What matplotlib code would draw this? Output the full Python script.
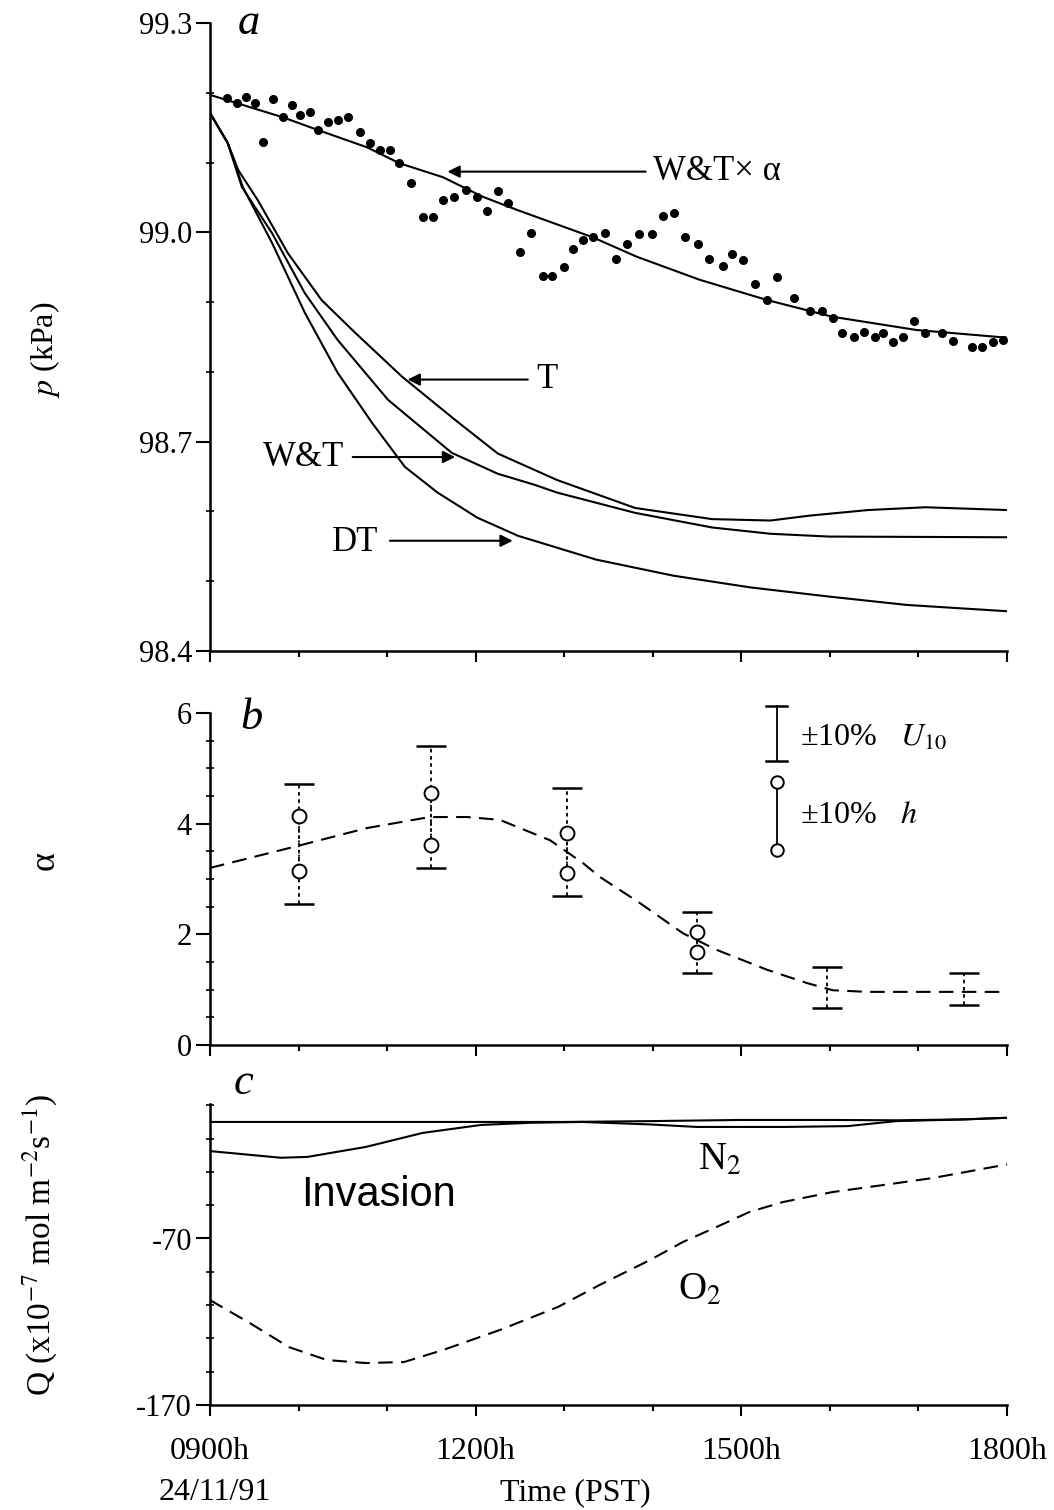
import matplotlib
matplotlib.use("Agg")
import numpy as np
import matplotlib.pyplot as plt

plt.rcParams['font.family'] = ['Liberation Serif', 'DejaVu Serif']
plt.rcParams['mathtext.fontset'] = 'stix'
plt.rcParams['axes.unicode_minus'] = False

# ---- panel a : pressure (kPa) ----
obs_hours = [9.19, 9.30, 9.41, 9.51, 9.60, 9.71, 9.82, 9.93, 10.02, 10.13,
             10.22, 10.33, 10.44, 10.56, 10.69, 10.81, 10.92, 11.03, 11.13, 11.27,
             11.40, 11.52, 11.63, 11.75, 11.89, 12.01, 12.13, 12.25, 12.37, 12.50,
             12.63, 12.76, 12.86, 13.00, 13.10, 13.21, 13.32, 13.46, 13.58, 13.71,
             13.84, 13.99, 14.11, 14.24, 14.36, 14.51, 14.64, 14.79, 14.90, 15.02,
             15.15, 15.29, 15.40, 15.59, 15.77, 15.91, 16.03, 16.14, 16.27, 16.39,
             16.51, 16.60, 16.71, 16.82, 16.95, 17.07, 17.27, 17.39, 17.61, 17.72,
             17.84, 17.95]
obs_p = [99.193, 99.185, 99.194, 99.185, 99.130, 99.191, 99.165, 99.183, 99.168, 99.172,
         99.147, 99.158, 99.161, 99.165, 99.144, 99.128, 99.118, 99.118, 99.099, 99.071,
         99.022, 99.022, 99.046, 99.051, 99.061, 99.051, 99.031, 99.059, 99.042, 98.972,
         98.999, 98.938, 98.938, 98.950, 98.976, 98.989, 98.993, 98.999, 98.962, 98.983,
         98.998, 98.998, 99.024, 99.028, 98.993, 98.983, 98.962, 98.952, 98.969, 98.960,
         98.926, 98.903, 98.936, 98.906, 98.887, 98.887, 98.877, 98.856, 98.850, 98.857,
         98.850, 98.856, 98.843, 98.850, 98.873, 98.856, 98.856, 98.844, 98.836, 98.836,
         98.843, 98.846]

wta_hours = [9.0, 9.82, 10.21, 10.77, 11.14, 11.63, 12.08, 12.47, 12.84, 13.32,
             13.82, 14.53, 15.29, 16.03, 16.98, 18.0]
wta_p = [99.197, 99.165, 99.147, 99.122, 99.099, 99.079, 99.051, 99.032, 99.015, 98.993,
         98.965, 98.932, 98.903, 98.879, 98.860, 98.849]

t_hours = [9.0, 9.20, 9.32, 9.54, 9.88, 10.26, 10.64, 11.17, 11.77, 12.25,
           12.92, 13.80, 14.67, 15.33, 15.77, 16.43, 17.08, 18.0]
t_p = [99.171, 99.128, 99.089, 99.046, 98.970, 98.903, 98.856, 98.793, 98.731, 98.683,
       98.645, 98.605, 98.589, 98.587, 98.594, 98.602, 98.606, 98.602]

wt_hours = [9.0, 9.20, 9.36, 9.70, 10.07, 10.44, 11.01, 11.73, 12.25, 12.67,
            12.92, 13.80, 14.67, 15.33, 15.99, 18.0]
wt_p = [99.171, 99.128, 99.065, 98.999, 98.913, 98.846, 98.760, 98.684, 98.654, 98.638,
        98.627, 98.598, 98.577, 98.568, 98.564, 98.563]

dt_hours = [9.0, 9.20, 9.37, 9.70, 10.07, 10.44, 10.83, 11.20, 11.57, 12.02,
            12.48, 13.36, 14.23, 15.11, 15.99, 16.87, 18.0]
dt_p = [99.171, 99.128, 99.065, 98.985, 98.885, 98.799, 98.727, 98.664, 98.627, 98.591,
        98.565, 98.531, 98.508, 98.491, 98.478, 98.466, 98.457]

# ---- panel b : alpha ----
alpha_hours = [9.0, 10.02, 10.77, 11.48, 11.90, 12.27, 12.84, 13.21, 13.40, 13.85,
               14.34, 14.72, 15.29, 15.74, 16.03, 16.42, 17.16, 18.0]
alpha_vals = [3.20, 3.61, 3.92, 4.12, 4.12, 4.07, 3.70, 3.29, 3.04, 2.57,
              2.02, 1.72, 1.36, 1.12, 0.99, 0.96, 0.96, 0.96]

bar_hours = [10.0, 11.5, 13.03, 14.5, 15.97, 17.52]
u10_hi = [4.72, 5.40, 4.64, 2.40, 1.41, 1.30]
u10_lo = [2.55, 3.20, 2.69, 1.30, 0.67, 0.72]
h_hi = [4.14, 4.55, 3.83, 2.04, np.nan, np.nan]
h_lo = [3.14, 3.61, 3.11, 1.68, np.nan, np.nan]

# ---- panel c : fluxes ----
n2_top_hours = [9.0, 13.0, 13.97, 15.0, 16.0, 16.75, 17.5, 18.0]
n2_top_q = [0.0, 0.0, 0.5, 1.2, 1.2, 1.0, 1.5, 2.5]
n2_inv_hours = [9.0, 9.8, 10.1, 10.76, 11.40, 12.06, 12.62, 13.2, 13.97, 14.5,
                15.5, 16.2, 16.75, 17.5, 18.0]
n2_inv_q = [-17.5, -21.5, -21.0, -15.0, -6.6, -1.8, -0.5, 0.0, -1.5, -3.0,
            -3.0, -2.5, 0.5, 1.5, 2.5]
o2_hours = [9.0, 9.45, 9.89, 10.32, 10.76, 11.19, 11.63, 12.27, 12.93, 13.40,
            13.97, 14.34, 14.72, 15.09, 15.47, 16.03, 16.60, 17.16, 18.0]
o2_q = [-107.0, -120.8, -135.2, -143.0, -144.8, -144.2, -137.0, -125.0, -111.1, -97.9,
        -82.9, -72.1, -63.1, -54.1, -48.1, -42.1, -37.9, -33.7, -25.5]

x_ticks = [9, 12, 15, 18]
x_labels = ['0900h', '1200h', '1500h', '1800h']

W, H = 1054, 1510
fig = plt.figure(figsize=(W / 100, H / 100), dpi=100)
left = 210 / W
width = 797 / W
ax_a = fig.add_axes([left, 1 - 651 / H, width, 628 / H])
ax_b = fig.add_axes([left, 1 - 1045 / H, width, 332 / H])
ax_c = fig.add_axes([left, 1 - 1405 / H, width, 181 * 1.665 / H])

TICK_FS = 23
LW = 1.5


def style_axis(ax):
    for s in ['top', 'right']:
        ax.spines[s].set_visible(False)
    for s in ['left', 'bottom']:
        ax.spines[s].set_linewidth(1.8)
    ax.set_xlim(9, 18)
    ax.set_xticks(x_ticks)
    ax.set_xticks([10, 11, 13, 14, 16, 17], minor=True)
    ax.tick_params(axis='x', which='major', direction='out', length=8, width=1.5)
    ax.tick_params(axis='x', which='minor', direction='out', length=4, width=1.5)
    ax.tick_params(axis='y', which='major', direction='out', length=10, width=1.5,
                   labelsize=22, pad=3)
    ax.tick_params(axis='y', which='minor', direction='inout', length=6, width=1.2)


# panel a
style_axis(ax_a)
ax_a.set_ylim(98.4, 99.3)
ax_a.set_yticks([98.4, 98.7, 99.0, 99.3])
ax_a.set_yticklabels(['98.4', '98.7', '99.0', '99.3'])
ax_a.set_yticks(np.arange(98.5, 99.3, 0.1), minor=True)
ax_a.set_xticklabels([])
ax_a.plot(obs_hours, obs_p, 'o', color='k', ms=5.5, clip_on=False)
ax_a.plot(wta_hours, wta_p, color='k', lw=LW)
ax_a.plot(t_hours, t_p, color='k', lw=LW)
ax_a.plot(wt_hours, wt_p, color='k', lw=LW)
ax_a.plot(dt_hours, dt_p, color='k', lw=LW)

arrow = dict(arrowstyle='-|>', color='k', lw=1.5, mutation_scale=18)
ax_a.annotate('', xy=(11.65, 99.087), xytext=(13.95, 99.087), arrowprops=arrow)
ax_a.text(14.0, 99.087, 'W&T× α', fontsize=25, va='center', ha='left')
ax_a.annotate('', xy=(11.2, 98.789), xytext=(12.62, 98.789), arrowprops=arrow)
ax_a.text(12.68, 98.789, 'T', fontsize=25, va='center', ha='left')
ax_a.annotate('', xy=(11.8, 98.678), xytext=(10.58, 98.678), arrowprops=arrow)
ax_a.text(10.52, 98.678, 'W&T', fontsize=25, va='center', ha='right')
ax_a.annotate('', xy=(12.45, 98.558), xytext=(11.0, 98.558), arrowprops=arrow)
ax_a.text(10.9, 98.555, 'DT', fontsize=25, va='center', ha='right')
ax_a.text(0.035, 1.0, 'a', transform=ax_a.transAxes, fontsize=32, style='italic',
          va='center', ha='left')

# panel b
style_axis(ax_b)
ax_b.set_ylim(0, 6)
ax_b.set_yticks([0, 2, 4, 6])
ax_b.set_yticklabels(['0', '2', '4', '6'])
ax_b.set_yticks(np.arange(0.5, 6, 0.5), minor=True)
ax_b.set_xticklabels([])
ax_b.plot(alpha_hours, alpha_vals, color='k', lw=LW, dashes=(7, 4))
mid = [(a + b) / 2 for a, b in zip(u10_hi, u10_lo)]
half = [(a - b) / 2 for a, b in zip(u10_hi, u10_lo)]
eb = ax_b.errorbar(bar_hours, mid, yerr=half, fmt='none', ecolor='k',
                   elinewidth=1.3, capsize=11, capthick=1.8)
eb[2][0].set_linestyle((0, (2, 2)))
for hx, hh, hl in zip(bar_hours, h_hi, h_lo):
    ax_b.plot([hx, hx], [hl, hh], color='k', lw=1.3, ls=':', marker='o', ms=10,
              mfc='white', mec='k', mew=1.4)
# legend for the bars
ax_b.plot([0.711, 0.711], [0.855, 1.021], transform=ax_b.transAxes, color='k',
          lw=1.3, clip_on=False)
for yy in [0.855, 1.021]:
    ax_b.plot([0.698, 0.724], [yy, yy], transform=ax_b.transAxes, color='k',
              lw=1.8, clip_on=False)
ax_b.plot([0.711, 0.711], [0.587, 0.792], transform=ax_b.transAxes, color='k',
          lw=1.3, marker='o', ms=9, mfc='white', mec='k', mew=1.4, clip_on=False)
ax_b.text(0.74, 0.925, '±10%   $U_{10}$', transform=ax_b.transAxes, fontsize=23,
          va='center', ha='left')
ax_b.text(0.74, 0.69, '±10%   $h$', transform=ax_b.transAxes, fontsize=23,
          va='center', ha='left')
ax_b.text(0.038, 0.985, 'b', transform=ax_b.transAxes, fontsize=32, style='italic',
          va='center', ha='left')

# panel c
style_axis(ax_c)
ax_c.set_ylim(-170, 11)
ax_c.set_yticks([-170, -70])
ax_c.set_yticklabels(['-170', '-70'])
ax_c.set_yticks(np.arange(-150, 11, 20), minor=True)
ax_c.set_xticklabels(x_labels, fontsize=TICK_FS)
ax_c.tick_params(axis='x', which='major', pad=15)
ax_c.plot(n2_top_hours, n2_top_q, color='k', lw=LW)
ax_c.plot(n2_inv_hours, n2_inv_q, color='k', lw=LW)
ax_c.plot(o2_hours, o2_q, color='k', lw=LW, dashes=(7, 4))
ax_c.text(10.9, -44, 'Invasion', fontsize=30, family='Liberation Sans',
          ha='center', va='center')
ax_c.text(14.76, -23, 'N$_2$', fontsize=28, ha='center', va='center')
ax_c.text(14.53, -101, 'O$_2$', fontsize=28, ha='center', va='center')
ax_c.text(0.03, 1.07, 'c', transform=ax_c.transAxes, fontsize=32, style='italic',
          va='center', ha='left')

# axis titles
fig.text(45 / W, 1 - 350 / H, '$p$ (kPa)', rotation=90, fontsize=23,
         ha='center', va='center')
fig.text(45 / W, 1 - 860 / H, 'α', rotation=90, fontsize=26,
         ha='center', va='center')
fig.text(40 / W, 1 - 1245 / H, 'Q (x10$^{-7}$ mol m$^{-2}$s$^{-1}$)', rotation=90,
         fontsize=24, ha='center', va='center')
fig.text(215 / W, 1 - 1493 / H, '24/11/91', fontsize=TICK_FS, ha='center', va='center')
fig.text(575 / W, 1 - 1493 / H, 'Time (PST)', fontsize=TICK_FS, ha='center', va='center')

fig.savefig('out.png', dpi=100)
